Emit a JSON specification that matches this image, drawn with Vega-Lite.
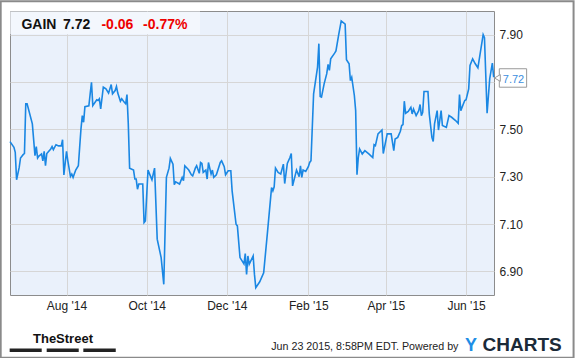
{
  "$schema": "https://vega.github.io/schema/vega-lite/v6.json",
  "width": 484,
  "height": 284,
  "autosize": "none",
  "padding": {"left": 10, "top": 11, "right": 81, "bottom": 63},
  "background": "white",
  "config": {
    "view": {"fill": "#eaf1fb", "stroke": "#8c8c8c", "strokeWidth": 1},
    "axis": {"labelFont": "Liberation Sans", "labelFontSize": 12, "labelColor": "#222222", "gridColor": "#d6d6d6", "gridWidth": 1, "ticks": false, "domain": false, "title": null}
  },
  "data": {"values": [
    {"date": "2014-06-19", "price": 7.448},
    {"date": "2014-06-22", "price": 7.424},
    {"date": "2014-06-23", "price": 7.403},
    {"date": "2014-06-24", "price": 7.287},
    {"date": "2014-06-26", "price": 7.339},
    {"date": "2014-06-27", "price": 7.379},
    {"date": "2014-06-29", "price": 7.393},
    {"date": "2014-06-30", "price": 7.398},
    {"date": "2014-07-01", "price": 7.608},
    {"date": "2014-07-02", "price": 7.608},
    {"date": "2014-07-06", "price": 7.523},
    {"date": "2014-07-08", "price": 7.389},
    {"date": "2014-07-09", "price": 7.427},
    {"date": "2014-07-10", "price": 7.379},
    {"date": "2014-07-11", "price": 7.387},
    {"date": "2014-07-13", "price": 7.396},
    {"date": "2014-07-14", "price": 7.367},
    {"date": "2014-07-15", "price": 7.407},
    {"date": "2014-07-16", "price": 7.346},
    {"date": "2014-07-17", "price": 7.398},
    {"date": "2014-07-20", "price": 7.417},
    {"date": "2014-07-21", "price": 7.427},
    {"date": "2014-07-22", "price": 7.414},
    {"date": "2014-07-24", "price": 7.435},
    {"date": "2014-07-26", "price": 7.430},
    {"date": "2014-07-28", "price": 7.430},
    {"date": "2014-07-29", "price": 7.456},
    {"date": "2014-07-30", "price": 7.307},
    {"date": "2014-08-01", "price": 7.407},
    {"date": "2014-08-02", "price": 7.367},
    {"date": "2014-08-04", "price": 7.301},
    {"date": "2014-08-05", "price": 7.311},
    {"date": "2014-08-06", "price": 7.297},
    {"date": "2014-08-08", "price": 7.328},
    {"date": "2014-08-10", "price": 7.346},
    {"date": "2014-08-11", "price": 7.424},
    {"date": "2014-08-12", "price": 7.502},
    {"date": "2014-08-13", "price": 7.558},
    {"date": "2014-08-14", "price": 7.530},
    {"date": "2014-08-15", "price": 7.596},
    {"date": "2014-08-18", "price": 7.599},
    {"date": "2014-08-19", "price": 7.650},
    {"date": "2014-08-20", "price": 7.699},
    {"date": "2014-08-21", "price": 7.600},
    {"date": "2014-08-24", "price": 7.625},
    {"date": "2014-08-25", "price": 7.622},
    {"date": "2014-08-26", "price": 7.629},
    {"date": "2014-08-27", "price": 7.586},
    {"date": "2014-08-29", "price": 7.678},
    {"date": "2014-08-31", "price": 7.671},
    {"date": "2014-09-02", "price": 7.653},
    {"date": "2014-09-04", "price": 7.689},
    {"date": "2014-09-05", "price": 7.650},
    {"date": "2014-09-07", "price": 7.664},
    {"date": "2014-09-08", "price": 7.681},
    {"date": "2014-09-09", "price": 7.653},
    {"date": "2014-09-11", "price": 7.619},
    {"date": "2014-09-12", "price": 7.629},
    {"date": "2014-09-14", "price": 7.614},
    {"date": "2014-09-15", "price": 7.608},
    {"date": "2014-09-16", "price": 7.647},
    {"date": "2014-09-17", "price": 7.523},
    {"date": "2014-09-18", "price": 7.336},
    {"date": "2014-09-21", "price": 7.328},
    {"date": "2014-09-22", "price": 7.290},
    {"date": "2014-09-23", "price": 7.290},
    {"date": "2014-09-24", "price": 7.247},
    {"date": "2014-09-25", "price": 7.269},
    {"date": "2014-09-28", "price": 7.269},
    {"date": "2014-09-29", "price": 7.106},
    {"date": "2014-09-30", "price": 7.113},
    {"date": "2014-10-02", "price": 7.328},
    {"date": "2014-10-03", "price": 7.314},
    {"date": "2014-10-05", "price": 7.287},
    {"date": "2014-10-07", "price": 7.336},
    {"date": "2014-10-09", "price": 7.036},
    {"date": "2014-10-12", "price": 6.958},
    {"date": "2014-10-14", "price": 6.845},
    {"date": "2014-10-16", "price": 7.297},
    {"date": "2014-10-18", "price": 7.336},
    {"date": "2014-10-19", "price": 7.377},
    {"date": "2014-10-21", "price": 7.353},
    {"date": "2014-10-22", "price": 7.266},
    {"date": "2014-10-23", "price": 7.278},
    {"date": "2014-10-26", "price": 7.269},
    {"date": "2014-10-28", "price": 7.297},
    {"date": "2014-10-29", "price": 7.283},
    {"date": "2014-10-30", "price": 7.346},
    {"date": "2014-11-02", "price": 7.328},
    {"date": "2014-11-04", "price": 7.308},
    {"date": "2014-11-05", "price": 7.303},
    {"date": "2014-11-07", "price": 7.336},
    {"date": "2014-11-08", "price": 7.346},
    {"date": "2014-11-10", "price": 7.314},
    {"date": "2014-11-11", "price": 7.360},
    {"date": "2014-11-12", "price": 7.356},
    {"date": "2014-11-13", "price": 7.318},
    {"date": "2014-11-15", "price": 7.328},
    {"date": "2014-11-16", "price": 7.290},
    {"date": "2014-11-17", "price": 7.360},
    {"date": "2014-11-19", "price": 7.311},
    {"date": "2014-11-20", "price": 7.328},
    {"date": "2014-11-21", "price": 7.297},
    {"date": "2014-11-23", "price": 7.308},
    {"date": "2014-11-24", "price": 7.325},
    {"date": "2014-11-26", "price": 7.360},
    {"date": "2014-11-27", "price": 7.367},
    {"date": "2014-11-29", "price": 7.342},
    {"date": "2014-11-30", "price": 7.308},
    {"date": "2014-12-02", "price": 7.325},
    {"date": "2014-12-04", "price": 7.325},
    {"date": "2014-12-05", "price": 7.240},
    {"date": "2014-12-08", "price": 7.099},
    {"date": "2014-12-09", "price": 7.092},
    {"date": "2014-12-11", "price": 6.958},
    {"date": "2014-12-14", "price": 6.931},
    {"date": "2014-12-15", "price": 6.975},
    {"date": "2014-12-16", "price": 6.887},
    {"date": "2014-12-17", "price": 6.965},
    {"date": "2014-12-18", "price": 6.930},
    {"date": "2014-12-21", "price": 6.965},
    {"date": "2014-12-22", "price": 6.887},
    {"date": "2014-12-23", "price": 6.831},
    {"date": "2014-12-26", "price": 6.856},
    {"date": "2014-12-29", "price": 6.894},
    {"date": "2015-01-01", "price": 7.071},
    {"date": "2015-01-04", "price": 7.254},
    {"date": "2015-01-05", "price": 7.240},
    {"date": "2015-01-06", "price": 7.257},
    {"date": "2015-01-07", "price": 7.336},
    {"date": "2015-01-09", "price": 7.318},
    {"date": "2015-01-11", "price": 7.311},
    {"date": "2015-01-13", "price": 7.353},
    {"date": "2015-01-14", "price": 7.271},
    {"date": "2015-01-16", "price": 7.356},
    {"date": "2015-01-18", "price": 7.381},
    {"date": "2015-01-19", "price": 7.398},
    {"date": "2015-01-20", "price": 7.261},
    {"date": "2015-01-23", "price": 7.328},
    {"date": "2015-01-25", "price": 7.300},
    {"date": "2015-01-26", "price": 7.346},
    {"date": "2015-01-27", "price": 7.297},
    {"date": "2015-01-28", "price": 7.328},
    {"date": "2015-01-30", "price": 7.322},
    {"date": "2015-02-01", "price": 7.342},
    {"date": "2015-02-02", "price": 7.360},
    {"date": "2015-02-03", "price": 7.367},
    {"date": "2015-02-05", "price": 7.650},
    {"date": "2015-02-08", "price": 7.763},
    {"date": "2015-02-09", "price": 7.862},
    {"date": "2015-02-10", "price": 7.639},
    {"date": "2015-02-11", "price": 7.636},
    {"date": "2015-02-13", "price": 7.692},
    {"date": "2015-02-15", "price": 7.735},
    {"date": "2015-02-16", "price": 7.774},
    {"date": "2015-02-17", "price": 7.749},
    {"date": "2015-02-18", "price": 7.798},
    {"date": "2015-02-21", "price": 7.822},
    {"date": "2015-02-22", "price": 7.831},
    {"date": "2015-02-24", "price": 7.897},
    {"date": "2015-02-26", "price": 7.958},
    {"date": "2015-03-01", "price": 7.944},
    {"date": "2015-03-02", "price": 7.794},
    {"date": "2015-03-04", "price": 7.777},
    {"date": "2015-03-05", "price": 7.706},
    {"date": "2015-03-06", "price": 7.720},
    {"date": "2015-03-08", "price": 7.643},
    {"date": "2015-03-09", "price": 7.579},
    {"date": "2015-03-10", "price": 7.308},
    {"date": "2015-03-11", "price": 7.381},
    {"date": "2015-03-12", "price": 7.417},
    {"date": "2015-03-14", "price": 7.396},
    {"date": "2015-03-16", "price": 7.410},
    {"date": "2015-03-19", "price": 7.396},
    {"date": "2015-03-22", "price": 7.381},
    {"date": "2015-03-23", "price": 7.435},
    {"date": "2015-03-24", "price": 7.431},
    {"date": "2015-03-26", "price": 7.481},
    {"date": "2015-03-29", "price": 7.497},
    {"date": "2015-03-30", "price": 7.398},
    {"date": "2015-04-02", "price": 7.481},
    {"date": "2015-04-05", "price": 7.481},
    {"date": "2015-04-07", "price": 7.410},
    {"date": "2015-04-08", "price": 7.459},
    {"date": "2015-04-10", "price": 7.466},
    {"date": "2015-04-12", "price": 7.492},
    {"date": "2015-04-13", "price": 7.516},
    {"date": "2015-04-14", "price": 7.520},
    {"date": "2015-04-15", "price": 7.619},
    {"date": "2015-04-16", "price": 7.568},
    {"date": "2015-04-18", "price": 7.576},
    {"date": "2015-04-20", "price": 7.593},
    {"date": "2015-04-21", "price": 7.565},
    {"date": "2015-04-22", "price": 7.586},
    {"date": "2015-04-24", "price": 7.558},
    {"date": "2015-04-26", "price": 7.579},
    {"date": "2015-04-27", "price": 7.605},
    {"date": "2015-04-28", "price": 7.558},
    {"date": "2015-04-29", "price": 7.572},
    {"date": "2015-04-30", "price": 7.660},
    {"date": "2015-05-03", "price": 7.660},
    {"date": "2015-05-04", "price": 7.565},
    {"date": "2015-05-06", "price": 7.466},
    {"date": "2015-05-07", "price": 7.449},
    {"date": "2015-05-08", "price": 7.523},
    {"date": "2015-05-10", "price": 7.579},
    {"date": "2015-05-11", "price": 7.497},
    {"date": "2015-05-13", "price": 7.579},
    {"date": "2015-05-14", "price": 7.516},
    {"date": "2015-05-17", "price": 7.508},
    {"date": "2015-05-19", "price": 7.558},
    {"date": "2015-05-21", "price": 7.551},
    {"date": "2015-05-24", "price": 7.537},
    {"date": "2015-05-26", "price": 7.525},
    {"date": "2015-05-27", "price": 7.647},
    {"date": "2015-05-28", "price": 7.579},
    {"date": "2015-05-30", "price": 7.608},
    {"date": "2015-05-31", "price": 7.622},
    {"date": "2015-06-01", "price": 7.625},
    {"date": "2015-06-03", "price": 7.671},
    {"date": "2015-06-04", "price": 7.770},
    {"date": "2015-06-06", "price": 7.798},
    {"date": "2015-06-08", "price": 7.777},
    {"date": "2015-06-10", "price": 7.760},
    {"date": "2015-06-14", "price": 7.900},
    {"date": "2015-06-15", "price": 7.887},
    {"date": "2015-06-17", "price": 7.568},
    {"date": "2015-06-19", "price": 7.714},
    {"date": "2015-06-21", "price": 7.780},
    {"date": "2015-06-22", "price": 7.720}
  ]},
  "layer": [
    {
      "mark": {"type": "line", "color": "#1a87e3", "strokeWidth": 1.6, "interpolate": "linear"},
      "encoding": {
        "x": {"field": "date", "type": "temporal",
          "scale": {"type": "utc", "domain": [{"year": 2014, "month": 6, "date": 19, "utc": true}, {"year": 2015, "month": 6, "date": 22, "hours": 6, "utc": true}]},
          "axis": {"orient": "bottom", "grid": true, "labelPadding": 5,
            "values": [{"year": 2014, "month": 8, "date": 1, "utc": true}, {"year": 2014, "month": 10, "date": 1, "utc": true}, {"year": 2014, "month": 12, "date": 1, "utc": true}, {"year": 2015, "month": 2, "date": 1, "utc": true}, {"year": 2015, "month": 4, "date": 1, "utc": true}, {"year": 2015, "month": 6, "date": 1, "utc": true}],
            "labelExpr": "utcFormat(datum.value, \"%b '%y\")"}},
        "y": {"field": "price", "type": "quantitative",
          "scale": {"domain": [6.8, 8.0], "zero": false, "nice": false},
          "axis": {"orient": "right", "grid": true, "labelPadding": 5, "values": [6.9, 7.1, 7.3, 7.5, 7.7, 7.9],
            "labelExpr": "(datum.value > 7.69 && datum.value < 7.71) ? '' : format(datum.value, '.2f')"}}
      }
    },
    {
      "data": {"values": [{}]},
      "mark": {"type": "rect", "fill": "#f3f7fd"},
      "encoding": {
        "x": {"datum": {"year": 2014, "month": 6, "date": 19, "hours": 6, "utc": true}, "type": "temporal"},
        "x2": {"datum": {"year": 2014, "month": 11, "date": 10, "hours": 14, "utc": true}},
        "y": {"datum": 7.902, "type": "quantitative"},
        "y2": {"datum": 7.998}
      }
    },
    {
      "data": {"values": [{}]},
      "mark": {"type": "text", "text": "GAIN", "font": "Liberation Sans", "fontSize": 14, "fontWeight": "bold", "color": "#111111", "align": "left", "baseline": "alphabetic"},
      "encoding": {"x": {"datum": {"year": 2014, "month": 6, "date": 27, "hours": 16, "utc": true}, "type": "temporal"}, "y": {"datum": 7.922, "type": "quantitative"}}
    },
    {
      "data": {"values": [{}]},
      "mark": {"type": "text", "text": "7.72", "font": "Liberation Sans", "fontSize": 14, "fontWeight": "bold", "color": "#111111", "align": "left", "baseline": "alphabetic"},
      "encoding": {"x": {"datum": {"year": 2014, "month": 7, "date": 29, "hours": 8, "utc": true}, "type": "temporal"}, "y": {"datum": 7.922, "type": "quantitative"}}
    },
    {
      "data": {"values": [{}]},
      "mark": {"type": "text", "text": "-0.06", "font": "Liberation Sans", "fontSize": 14, "fontWeight": "bold", "color": "#ee0000", "align": "left", "baseline": "alphabetic"},
      "encoding": {"x": {"datum": {"year": 2014, "month": 8, "date": 27, "hours": 14, "utc": true}, "type": "temporal"}, "y": {"datum": 7.922, "type": "quantitative"}}
    },
    {
      "data": {"values": [{}]},
      "mark": {"type": "text", "text": "-0.77%", "font": "Liberation Sans", "fontSize": 14, "fontWeight": "bold", "color": "#ee0000", "align": "left", "baseline": "alphabetic"},
      "encoding": {"x": {"datum": {"year": 2014, "month": 9, "date": 28, "hours": 6, "utc": true}, "type": "temporal"}, "y": {"datum": 7.922, "type": "quantitative"}}
    },
    {
      "data": {"values": [{}]},
      "mark": {"type": "rect", "fill": "white", "stroke": "#9a9a9a", "strokeWidth": 1},
      "encoding": {
        "x": {"datum": {"year": 2015, "month": 6, "date": 26, "hours": 7, "utc": true}, "type": "temporal"},
        "x2": {"datum": {"year": 2015, "month": 7, "date": 17, "hours": 2, "utc": true}},
        "y": {"datum": 7.678, "type": "quantitative"},
        "y2": {"datum": 7.756}
      }
    },
    {
      "data": {"values": [{}]},
      "mark": {"type": "point", "shape": "triangle-left", "size": 45, "filled": true, "fill": "white", "stroke": "#9a9a9a", "strokeWidth": 1, "opacity": 1},
      "encoding": {"x": {"datum": {"year": 2015, "month": 6, "date": 24, "hours": 20, "utc": true}, "type": "temporal"}, "y": {"datum": 7.717, "type": "quantitative"}}
    },
    {
      "data": {"values": [{}]},
      "mark": {"type": "text", "text": "7.72", "font": "Liberation Sans", "fontSize": 11, "color": "#3d8fe0", "align": "left", "baseline": "alphabetic"},
      "encoding": {"x": {"datum": {"year": 2015, "month": 6, "date": 28, "hours": 22, "utc": true}, "type": "temporal"}, "y": {"datum": 7.6937, "type": "quantitative"}}
    },
    {
      "data": {"values": [{}]},
      "mark": {"type": "rect", "fill": null, "fillOpacity": 0, "stroke": "#8a8a8a", "strokeWidth": 2},
      "encoding": {
        "x": {"datum": {"year": 2014, "month": 6, "date": 11, "hours": 22, "utc": true}, "type": "temporal"},
        "x2": {"datum": {"year": 2015, "month": 8, "date": 21, "hours": 19, "utc": true}},
        "y": {"datum": 6.5347, "type": "quantitative"},
        "y2": {"datum": 8.041}
      }
    },
    {
      "data": {"values": [{}]},
      "mark": {"type": "text", "text": "TheStreet", "font": "Liberation Sans", "fontSize": 13, "fontWeight": "bold", "color": "#111111", "align": "left", "baseline": "alphabetic"},
      "encoding": {"x": {"datum": {"year": 2014, "month": 7, "date": 6, "hours": 12, "utc": true}, "type": "temporal"}, "y": {"datum": 6.5975, "type": "quantitative"}}
    },
    {
      "data": {"values": [{}]},
      "mark": {"type": "rule", "color": "#222222", "strokeWidth": 3.5},
      "encoding": {"x": {"datum": {"year": 2014, "month": 6, "date": 18, "hours": 18, "utc": true}, "type": "temporal"}, "x2": {"datum": {"year": 2014, "month": 7, "date": 13, "hours": 3, "utc": true}}, "y": {"datum": 6.5665, "type": "quantitative"}}
    },
    {
      "data": {"values": [{}]},
      "mark": {"type": "rule", "color": "#222222", "strokeWidth": 3.5},
      "encoding": {"x": {"datum": {"year": 2014, "month": 7, "date": 16, "hours": 22, "utc": true}, "type": "temporal"}, "x2": {"datum": {"year": 2014, "month": 8, "date": 10, "hours": 7, "utc": true}}, "y": {"datum": 6.5665, "type": "quantitative"}}
    },
    {
      "data": {"values": [{}]},
      "mark": {"type": "rule", "color": "#222222", "strokeWidth": 3.5},
      "encoding": {"x": {"datum": {"year": 2014, "month": 8, "date": 13, "hours": 19, "utc": true}, "type": "temporal"}, "x2": {"datum": {"year": 2014, "month": 9, "date": 7, "hours": 11, "utc": true}}, "y": {"datum": 6.5665, "type": "quantitative"}}
    },
    {
      "data": {"values": [{}]},
      "mark": {"type": "text", "text": "Jun 23 2015, 8:58PM EDT.  Powered by", "font": "Liberation Sans", "fontSize": 10.7, "color": "#222222", "align": "left", "baseline": "alphabetic"},
      "encoding": {"x": {"datum": {"year": 2015, "month": 1, "date": 3, "hours": 19, "utc": true}, "type": "temporal"}, "y": {"datum": 6.5686, "type": "quantitative"}}
    },
    {
      "data": {"values": [{}]},
      "mark": {"type": "text", "text": "Y", "font": "Liberation Sans", "fontSize": 18, "fontWeight": "bold", "color": "#1e8ee6", "align": "left", "baseline": "alphabetic"},
      "encoding": {"x": {"datum": {"year": 2015, "month": 5, "date": 31, "hours": 5, "utc": true}, "type": "temporal"}, "y": {"datum": 6.5623, "type": "quantitative"}}
    },
    {
      "data": {"values": [{}]},
      "mark": {"type": "text", "text": "CHARTS", "font": "Liberation Sans", "fontSize": 19, "fontWeight": "bold", "color": "#1b2a38", "align": "left", "baseline": "alphabetic"},
      "encoding": {"x": {"datum": {"year": 2015, "month": 6, "date": 13, "hours": 14, "utc": true}, "type": "temporal"}, "y": {"datum": 6.5623, "type": "quantitative"}}
    }
  ]
}
